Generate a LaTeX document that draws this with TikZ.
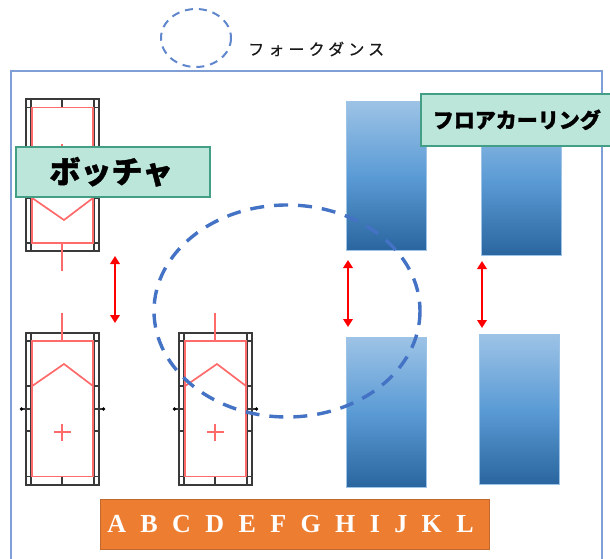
\documentclass[tikz,border=0pt]{standalone}
\usepackage{fontspec}
\newfontfamily\cjk{Noto Sans CJK JP}[BoldFeatures={FakeBold=1.2}]
\newfontfamily\cjkwide{Noto Sans CJK JP}[LetterSpace=26,FakeBold=0.4]
\newfontfamily\latinserif{Liberation Serif}
\usetikzlibrary{arrows.meta}
\definecolor{framec}{HTML}{7F9FD6}
\definecolor{dashc}{HTML}{4472C4}
\definecolor{labelfill}{HTML}{BBE6D9}
\definecolor{labeldraw}{HTML}{429E85}
\definecolor{orangef}{HTML}{ED7D31}
\definecolor{oranged}{HTML}{C0692E}
\definecolor{redl}{HTML}{FF6A6A}
\definecolor{blackl}{HTML}{3A3A3A}
\definecolor{bluet}{HTML}{9DC3E6}
\definecolor{bluem}{HTML}{5B9BD5}
\definecolor{blueb}{HTML}{2A659F}
\tikzset{
  x=1pt,y=-1pt,
  bluebox/.style={draw=bluet,line width=.4pt,rectangle,minimum width=80pt,anchor=north west,inner sep=0pt,
    top color=bluet,bottom color=blueb,middle color=bluem},
  labelbox/.style={draw=labeldraw,line width=1.6pt,fill=labelfill,rectangle,inner sep=0pt,anchor=north west},
  redarrow/.style={draw=red,line width=2.4pt,{Triangle[width=9.5pt,length=8pt]}-{Triangle[width=9.5pt,length=8pt]}},
  dashring/.style={draw=dashc,line width=3.4pt,dash pattern=on 14pt off 10pt},
  blk/.style={draw=blackl,line width=1.2pt},
  rd/.style={draw=redl,line width=1.7pt},
  pics/door/.style={code={
    \draw[blk] (0,0) rectangle (73,152);
    \draw[blk] (5,0) -- (5,152) (68,0) -- (68,152);
    \draw[blk] (0,8) -- (5,8) (68,8) -- (73,8) (0,143.5) -- (5,143.5) (68,143.5) -- (73,143.5);
    \draw[blk] (36,0) -- (36,8) (36,143.5) -- (36,152);
    \draw[blk] (0,53) -- (5,53) (68,53) -- (73,53) (0,98) -- (5,98) (68,98) -- (73,98);
    \draw[blk] (-5,76) -- (5,76) (68,76) -- (78,76);
    \fill[black] (-4.5,76) circle (1.8pt) (77.5,76) circle (1.8pt);
    \draw[rd] (6.2,8) rectangle (67,143.5);
    \draw[rd] (36,-20) -- (36,8);
    \draw[rd] (6.2,53) -- (38,31) -- (67,53);
    \draw[rd] (28,99) -- (45,99) (36,90.5) -- (36,107.5);
  }}
}
\begin{document}
\begin{tikzpicture}
\useasboundingbox (0,0) rectangle (610,559);
\fill[white] (0,0) rectangle (610,559);
\draw[framec,line width=1.1pt] (11,71) rectangle (602,575);
\pic at (26,333) {door};
\pic at (179,333) {door};
\pic[transform shape,yscale=-1] at (26,251) {door};
\node[bluebox,minimum height=149pt] (b1) at (346,101) {};
\node[bluebox,minimum height=150pt] (b2) at (481,105) {};
\node[bluebox,minimum height=150pt] (b3) at (346,337) {};
\node[bluebox,minimum height=150pt] (b4) at (479,334) {};
\draw[dashring] (287,311) ellipse [x radius=133,y radius=106];
\coordinate (a1t) at (115,256); \coordinate (a1b) at (115,323);
\coordinate (a2t) at (348,260); \coordinate (a2b) at (348,327);
\coordinate (a3t) at (482,261); \coordinate (a3b) at (482,328);
\draw[redarrow] (a1t) -- (a1b);
\draw[redarrow] (a2t) -- (a2b);
\draw[redarrow] (a3t) -- (a3b);
\node[labelbox,minimum width=194pt,minimum height=50pt,font=\cjk\bfseries\fontsize{31}{31}\selectfont] (lb1) at (15,146) {\hspace{-3pt}ボッチャ};
\node[labelbox,minimum width=195pt,minimum height=52pt,font=\cjk\bfseries\fontsize{21}{21}\selectfont] (lb2) at (420,93) {\hspace{-3pt}フロアカーリング};
\draw[draw=dashc!85!white,line width=2pt,dash pattern=on 8pt off 6pt] (196,38) ellipse [x radius=35,y radius=29];
\node[font=\cjkwide\fontsize{16}{16}\selectfont,anchor=west,inner sep=0pt,text=black!90] (lg) at (248,49) {フォークダンス};
\node[draw=oranged,line width=1pt,fill=orangef,rectangle,inner sep=0pt,minimum width=389pt,minimum height=50pt,anchor=north west,text=white,font=\latinserif\bfseries\fontsize{26}{26}\selectfont] (letters) at (100,499) {\hspace{-9pt}\spaceskip=14.4pt A B C D E F G H I J K L};
\end{tikzpicture}
\end{document}
